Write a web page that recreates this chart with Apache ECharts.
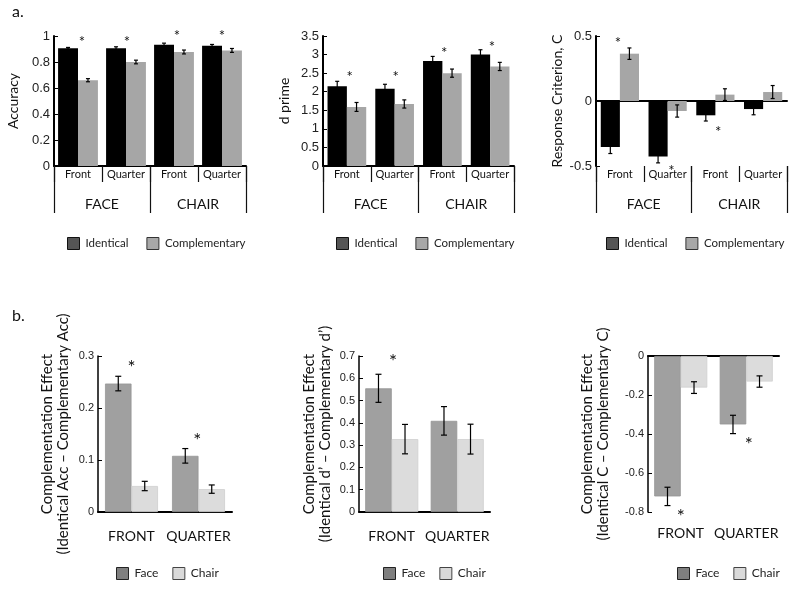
<!DOCTYPE html>
<html><head><meta charset="utf-8">
<script src="https://cdn.jsdelivr.net/npm/echarts@6/dist/echarts.min.js"></script>
<style>html,body{margin:0;padding:0;background:#fff}#c{width:800px;height:589px}</style>
</head><body><div id="c"></div>
<script>
// ---- categories / tick labels ----
const catsA = ['Front', 'Quarter', 'Front', 'Quarter'];
const groupsA = ['FACE', 'CHAIR'];
const catsB = ['FRONT', 'QUARTER'];
const seriesA = ['Identical', 'Complementary'];
const seriesB = ['Face', 'Chair'];

// ---- a1: Accuracy ----
const accIdent = [0.905, 0.905, 0.933, 0.925];
const accIdentErr = [0.007, 0.012, 0.012, 0.010];
const accComp = [0.660, 0.800, 0.877, 0.889];
const accCompErr = [0.012, 0.014, 0.015, 0.015];
const accStars = [[0, 0.2, 0.985], [1, 0.05, 0.985], [2, 0.15, 1.03], [3, 0.0, 1.03]];

// ---- a2: d prime ----
const dIdent = [2.15, 2.08, 2.83, 3.00];
const dIdentErr = [0.13, 0.12, 0.12, 0.13];
const dComp = [1.59, 1.67, 2.50, 2.68];
const dCompErr = [0.12, 0.11, 0.11, 0.11];
const dStars = [[0, 0.15, 2.5], [1, 0.05, 2.5], [2, 0.1, 3.15], [3, 0.1, 3.31]];

// ---- a3: Response criterion C ----
const cIdent = [-0.354, -0.426, -0.110, -0.062];
const cIdentErr = [0.050, 0.050, 0.044, 0.044];
const cComp = [0.364, -0.077, 0.049, 0.069];
const cCompErr = [0.044, 0.047, 0.045, 0.050];
const cStars = [[0, -0.1, 0.47], [1, 0.2, -0.508], [2, 0.15, -0.208]];

// ---- b1: complementation effect, accuracy ----
const effAccFace = [0.247, 0.108];
const effAccFaceErr = [0.014, 0.014];
const effAccChair = [0.050, 0.044];
const effAccChairErr = [0.009, 0.008];
const effAccStars = [[0, 0.0, 0.2865], [1, -0.05, 0.146]];

// ---- b2: complementation effect, d' ----
const effDFace = [0.555, 0.409];
const effDFaceErr = [0.063, 0.064];
const effDChair = [0.327, 0.327];
const effDChairErr = [0.066, 0.067];
const effDStars = [[0, 0.05, 0.695]];

// ---- b3: complementation effect, C ----
const effCFace = [-0.720, -0.351];
const effCFaceErr = [0.047, 0.047];
const effCChair = [-0.162, -0.131];
const effCChairErr = [0.030, 0.029];
const effCStars = [[0, 0.0, -0.80], [1, 0.1, -0.431]];

// ---- styling ----
const TXT = 'Lato';
const NUM = 'Liberation Sans';
const BLACK = '#000000', GREY_A = '#a6a6a6', GREY_F = '#a0a0a0', GREY_C = '#dcdcdc';

const panels = [
  {kind:'a', grid:{left:54, top:36, width:192, height:130}, y:{min:0, max:1, interval:0.2}, name:'Accuracy', nameGap:33,
   vals:[accIdent, accComp], errs:[accIdentErr, accCompErr], stars:accStars, gap:0.17,
   legend:{left:67, top:237}},
  {kind:'a', grid:{left:323, top:36, width:191, height:130}, y:{min:0, max:3.5, interval:0.5}, name:'d prime', nameGap:31,
   vals:[dIdent, dComp], errs:[dIdentErr, dCompErr], stars:dStars, gap:0.19,
   legend:{left:336, top:237}},
  {kind:'a', grid:{left:596, top:36, width:191, height:130}, y:{min:-0.5, max:0.5, interval:0.5}, name:'Response Criterion, C', nameGap:26,
   vals:[cIdent, cComp], errs:[cIdentErr, cCompErr], stars:cStars, gap:0.2, zeroLine:true,
   legend:{left:606, top:237}},
  {kind:'b', grid:{left:98, top:356, width:134, height:156}, y:{min:0, max:0.3, interval:0.1}, name:'Complementation Effect\n(Identical Acc \u2013 Complementary Acc)', nameGap:27,
   vals:[effAccFace, effAccChair], errs:[effAccFaceErr, effAccChairErr], stars:effAccStars, gap:0.21,
   legend:{left:116, top:567}},
  {kind:'b', grid:{left:359, top:356, width:131, height:156}, y:{min:0, max:0.7, interval:0.1}, name:'Complementation Effect\n(Identical d\u2019 \u2013 Complementary d\u2019)', nameGap:26,
   vals:[effDFace, effDChair], errs:[effDFaceErr, effDChairErr], stars:effDStars, gap:0.19,
   legend:{left:383, top:567}},
  {kind:'b', grid:{left:648, top:356, width:131, height:156}, y:{min:-0.8, max:0, interval:0.2}, name:'Complementation Effect\n(Identical C \u2013 Complementary C)', nameGap:37,
   vals:[effCFace, effCChair], errs:[effCFaceErr, effCChairErr], stars:effCStars, gap:0.19, zeroLine:true,
   legend:{left:677, top:567}}
];

function errRender(side, gap, cap) {
  return function (params, api) {
    const ci = api.value(0);
    const c = api.coord([ci, 0]);
    const band = api.size([1, 0])[0];
    const bw = band * (1 - gap) / 2;
    const x = c[0] + side * bw / 2;
    const lo = api.coord([ci, api.value(1)])[1];
    const hi = api.coord([ci, api.value(2)])[1];
    const st = {stroke:'#000', lineWidth:1.2};
    return {type:'group', children:[
      {type:'line', shape:{x1:x, y1:lo, x2:x, y2:hi}, style:st},
      {type:'line', shape:{x1:x-cap, y1:lo, x2:x+cap, y2:lo}, style:st},
      {type:'line', shape:{x1:x-cap, y1:hi, x2:x+cap, y2:hi}, style:st}
    ]};
  };
}
function starRender(gap, size) {
  return function (params, api) {
    const ci = api.value(0);
    const band = api.size([1, 0])[0];
    const bw = band * (1 - gap) / 2;
    const p = api.coord([ci, api.value(2)]);
    return {type:'text', x: p[0] + api.value(1) * bw, y: p[1] + size * 0.25,
      style:{text:'*', fontFamily:TXT, fontSize:size, fill:'#111', align:'center', verticalAlign:'middle'}};
  };
}

const option = {
  animation:false,
  backgroundColor:'#fff',
  grid:[], xAxis:[], yAxis:[], series:[], legend:[],
  graphic:[
    {type:'text', left:12, top:4, style:{text:'a.', fontFamily:TXT, fontSize:16, fill:'#111'}},
    {type:'text', left:12, top:308, style:{text:'b.', fontFamily:TXT, fontSize:16, fill:'#111'}}
  ]
};

panels.forEach((p, gi) => {
  option.grid.push(Object.assign({containLabel:false}, p.grid));
  const isA = p.kind === 'a';
  const cats = isA ? catsA : catsB;
  const names = isA ? seriesA : seriesB;
  const colors = isA ? [BLACK, GREY_A] : [GREY_F, GREY_C];
  const borders = isA ? [BLACK, '#999'] : ['#959595', '#cfcfcf'];
  const yi = option.yAxis.length;
  option.yAxis.push({
    type:'value', gridIndex:gi, min:p.y.min, max:p.y.max, interval:p.y.interval,
    name:p.name, nameLocation:'middle', nameGap:p.nameGap, nameRotate:90,
    nameTextStyle:{fontFamily:TXT, fontSize:isA ? 14 : 15, color:'#111', lineHeight:16},
    axisLine:{show:true, lineStyle:{color:'#000', width:isA ? 2 : 1.5}},
    axisTick:{show:true, inside:true, length:4, lineStyle:{color:'#000'}},
    axisLabel:{fontFamily:NUM, fontSize:isA ? 13 : 11, color:'#222', margin:4},
    splitLine:{show:false}
  });
  const xi = option.xAxis.length;
  // bar axis
  option.xAxis.push({
    type:'category', gridIndex:gi, data:cats, position:'bottom',
    axisLine:{show:true, onZero:true, lineStyle:{color:'#000', width:2}},
    axisTick:{show:false},
    axisLabel:{show:!isA && !p.zeroLine, interval:0, fontFamily:TXT, fontSize:14, color:'#111', margin:17}
  });
  if (isA) {
    option.xAxis.push({
      type:'category', gridIndex:gi, data:catsA, position:'bottom',
      axisLine:{show:false, onZero:false},
      axisTick:{show:true, interval:0, length:16, lineStyle:{color:'#111', width:1.2}},
      axisLabel:{interval:0, fontFamily:TXT, fontSize:11, color:'#111', margin:3}
    });
    option.xAxis.push({
      type:'category', gridIndex:gi, data:groupsA, position:'bottom',
      axisLine:{show:false, onZero:false},
      axisTick:{show:true, interval:0, length:47, lineStyle:{color:'#111', width:1.2}},
      axisLabel:{interval:0, fontFamily:TXT, fontSize:14, color:'#111', margin:31}
    });
  } else if (p.zeroLine) {
    option.xAxis.push({
      type:'category', gridIndex:gi, data:catsB, position:'bottom',
      axisLine:{show:false, onZero:false}, axisTick:{show:false},
      axisLabel:{interval:0, fontFamily:TXT, fontSize:14, color:'#111', margin:14}
    });
  }
  [0, 1].forEach(s => {
    option.series.push({
      type:'bar', name:names[s], xAxisIndex:xi, yAxisIndex:yi,
      data:p.vals[s], barGap:'0%', barCategoryGap:(p.gap * 100) + '%',
      itemStyle:{color:colors[s], borderColor:borders[s], borderWidth:isA ? 0 : 0.8},
      z:2
    });
    option.series.push({
      type:'custom', xAxisIndex:xi, yAxisIndex:yi, z:5,
      renderItem:errRender(s === 0 ? -1 : 1, p.gap, isA ? 2 : 3),
      encode:{x:0, y:[1, 2]},
      data:p.vals[s].map((v, i) => [i, v - p.errs[s][i], v + p.errs[s][i]])
    });
  });
  option.series.push({
    type:'custom', xAxisIndex:xi, yAxisIndex:yi, z:6,
    renderItem:starRender(p.gap, isA ? 15 : 19),
    encode:{x:0, y:2},
    data:p.stars
  });
  const legendItems = isA
    ? [{name:'Identical', itemStyle:{color:'#555555', borderColor:'#111', borderWidth:1}},
       {name:'Complementary', itemStyle:{color:'#a8a8a8', borderColor:'#333', borderWidth:1}}]
    : [{name:'Face', itemStyle:{color:'#7f7f7f', borderColor:'#222', borderWidth:1}},
       {name:'Chair', itemStyle:{color:'#d9d9d9', borderColor:'#444', borderWidth:1}}];
  option.legend.push({
    data:legendItems, left:p.legend.left, top:p.legend.top, orient:'horizontal',
    icon:'rect', itemWidth:12, itemHeight:12, itemGap:isA ? 18 : 14, padding:0,
    selectedMode:false,
    textStyle:{fontFamily:TXT, fontSize:isA ? 11.5 : 12, color:'#222', padding:[0,0,0,1]}
  });
});

const chart = echarts.init(document.getElementById('c'), null, {renderer:'canvas'});
chart.setOption(option);
</script></body></html>
